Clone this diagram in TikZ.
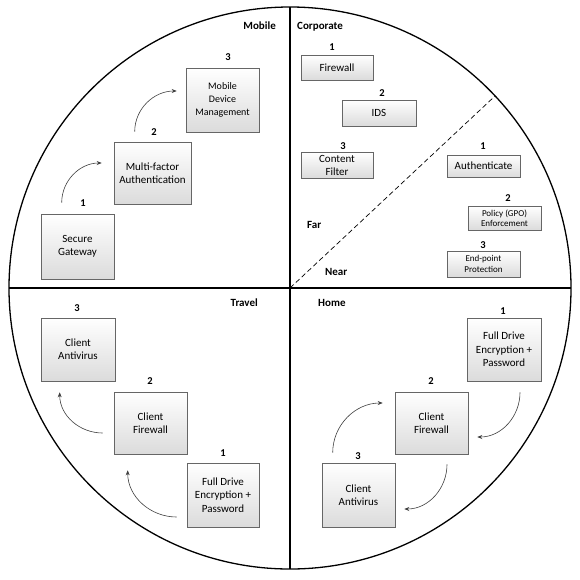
\documentclass[tikz,border=0pt]{standalone}
\usepackage{fontspec}
\setmainfont{Carlito}
\usetikzlibrary{shadows,arrows.meta}
\begin{document}
\begin{tikzpicture}[x=1pt,y=-1pt,
  box/.style={draw=black!60, line width=0.6pt, top color=white, bottom color=black!14,
    align=center, inner sep=1pt, font=\fontsize{11}{13.3}\selectfont,
    drop shadow={shadow xshift=1.2pt, shadow yshift=-1.2pt, opacity=0.35, fill=black!70}},
  sbox/.style={box, font=\fontsize{9}{10.5}\selectfont},
  num/.style={font=\bfseries\fontsize{10.5}{12}\selectfont, inner sep=1pt},
  ttl/.style={font=\bfseries\fontsize{11}{12}\selectfont, inner sep=0pt},
  flow/.style={draw=black!75, line width=0.6pt, -{Stealth[length=5pt,width=4pt]}}
]
\useasboundingbox (0,0) rectangle (580,579);
\fill[white] (0,0) rectangle (580,579);
% circle and dividers
\coordinate (c) at (290,288);
\draw[line width=1.3pt] (c) circle[radius=281];
\draw[line width=1.3pt] (9,288) -- (571,288);
\draw[line width=1.3pt] (290,7) -- (290,569);
\coordinate (d) at (495,96);
\draw[dashed, line width=0.7pt, dash pattern=on 5pt off 3pt] (c) -- (d);

% quadrant titles
\node[ttl, anchor=east] (tmob) at (276,26) {Mobile};
\node[ttl, anchor=west] (tcorp) at (297,27) {Corporate};
\node[ttl, anchor=east] (ttrav) at (258,303) {Travel};
\node[ttl, anchor=west] (thome) at (318,303) {Home};
\node[ttl, anchor=west] (tfar) at (307,225) {Far};
\node[ttl, anchor=west] (tnear) at (325,272) {Near};

% Mobile
\node[box, minimum width=73pt, minimum height=65pt] (sg) at (77.5,246.5) {Secure\\Gateway};
\node[box, minimum width=77pt, minimum height=62pt] (mfa) at (152.5,173) {Multi-factor\\Authentication};
\node[box, minimum width=73pt, minimum height=64pt, font=\fontsize{10}{13.3}\selectfont] (mdm) at (222.5,100) {Mobile\\Device\\Management};
\node[num] (n1m) at (83,203) {1};
\node[num] (n2m) at (154,132) {2};
\node[num] (n3m) at (228,57) {3};
\draw[flow] ([xshift=21pt,yshift=11pt]sg.north west) to[out=90,in=180] ([xshift=-12pt,yshift=10pt]mfa.west);
\draw[flow] ([xshift=21pt,yshift=10pt]mfa.north west) to[out=90,in=180] ([xshift=-9pt,yshift=9pt]mdm.west);

% Corporate
\node[box, minimum width=72pt, minimum height=25pt] (fw) at (337,67.5) {Firewall};
\node[box, minimum width=74pt, minimum height=26pt] (ids) at (379,113) {IDS};
\node[box, minimum width=72pt, minimum height=26pt, font=\fontsize{11}{13}\selectfont, inner sep=0pt] (cf) at (337,165) {Content\\Filter};
\node[box, minimum width=73pt, minimum height=22pt] (auth) at (483.5,166) {Authenticate};
\node[sbox, minimum width=73pt, minimum height=24pt] (pol) at (504.5,218) {Policy (GPO)\\Enforcement};
\node[sbox, minimum width=73pt, minimum height=26pt] (ep) at (483.5,264) {End-point\\Protection};
\node[num] (n1c) at (332,47) {1};
\node[num] (n2c) at (382,93) {2};
\node[num] (n3c) at (343,146) {3};
\node[num] (n1f) at (483,146) {1};
\node[num] (n2f) at (508,198) {2};
\node[num] (n3f) at (483,245) {3};

% Travel
\node[box, minimum width=74pt, minimum height=63pt] (ca) at (78,349.5) {Client\\Antivirus};
\node[box, minimum width=73pt, minimum height=62pt] (cfw) at (150.5,423) {Client\\Firewall};
\node[box, minimum width=72pt, minimum height=64pt] (fde) at (223,495) {Full Drive\\Encryption +\\Password};
\node[num] (n3t) at (77,308) {3};
\node[num] (n2t) at (150,381) {2};
\node[num] (n1t) at (223,453) {1};
\draw[flow] ([xshift=-11pt,yshift=-10pt]cfw.west) to[out=180,in=-90] ([xshift=19pt,yshift=-11pt]ca.south west);
\draw[flow] ([xshift=-10pt,yshift=-22pt]fde.west) to[out=180,in=-90] ([xshift=14pt,yshift=-16pt]cfw.south west);

% Home
\node[box, minimum width=74pt, minimum height=63pt] (hfde) at (504,349.5) {Full Drive\\Encryption +\\Password};
\node[box, minimum width=73pt, minimum height=62pt] (hcfw) at (431.5,423) {Client\\Firewall};
\node[box, minimum width=73pt, minimum height=64pt] (hca) at (358.5,495) {Client\\Antivirus};
\node[num] (n1h) at (503,311) {1};
\node[num] (n2h) at (431,381) {2};
\node[num] (n3h) at (358,456) {3};
\draw[flow] ([xshift=16pt,yshift=-11pt]hfde.south) to[out=-90,in=0] ([xshift=9pt,yshift=-14pt]hcfw.east);
\draw[flow] ([xshift=15.5pt,yshift=-10pt]hcfw.south) to[out=-90,in=0] ([xshift=9pt,yshift=-14pt]hca.east);
\draw[flow] ([xshift=11pt,yshift=10pt]hca.north west) to[out=90,in=180] ([xshift=-12pt,yshift=20pt]hcfw.west);
\end{tikzpicture}
\end{document}
